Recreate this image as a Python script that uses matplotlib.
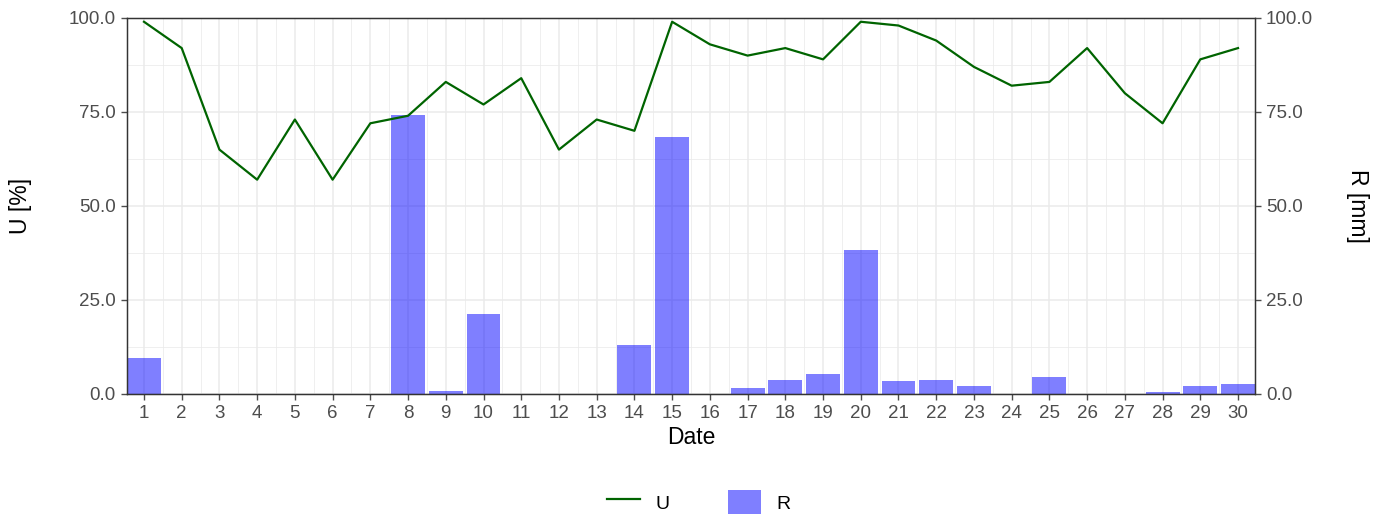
import numpy as np
import matplotlib.pyplot as plt
from matplotlib.patches import Patch
from matplotlib.lines import Line2D

plt.rcParams['font.family'] = ['Liberation Sans', 'DejaVu Sans']

# data
days = list(range(1, 31))
humidity = [99, 92, 65, 57, 73, 57, 72, 74, 83, 77, 84, 65, 73, 70, 99,
            93, 90, 92, 89, 99, 98, 94, 87, 82, 83, 92, 80, 72, 89, 92]
rain = [9.6, 0, 0, 0, 0, 0, 0, 74.2, 0.8, 21.3, 0, 0, 0, 12.9, 68.3,
        0, 1.7, 3.8, 5.3, 38.4, 3.5, 3.6, 2.1, 0, 4.4, 0, 0, 0.4, 2.1, 2.7]
yticks = [0, 25, 50, 75, 100]

grid_col = '#EBEBEB'
tick_col = '#4D4D4D'
W, H = 1384, 517

fig = plt.figure(figsize=(W / 100, H / 100), dpi=100)
ax = fig.add_axes([127 / W, 1 - 394 / H, (1255 - 127) / W, (394 - 18) / H])

# grid like ggplot theme_bw
for x in days:
    ax.axvline(x, color=grid_col, lw=1.1, zorder=0)
for x in np.arange(1.5, 30, 1):
    ax.axvline(x, color=grid_col, lw=0.55, zorder=0)
for y in yticks:
    ax.axhline(y, color=grid_col, lw=1.1, zorder=0)
for y in [12.5, 37.5, 62.5, 87.5]:
    ax.axhline(y, color=grid_col, lw=0.55, zorder=0)

ax.bar(days, rain, width=0.9, color='#0000FF', alpha=0.5, edgecolor='none', zorder=2)
ax.plot(days, humidity, color='#006400', lw=1.6, zorder=3)

ax.set_xlim(0.55, 30.45)
ax.set_ylim(0, 100)
ax.set_xticks(days)
ax.set_yticks(yticks)
ax.set_yticklabels([f'{v:.1f}' for v in yticks])
ax.tick_params(colors=tick_col, labelcolor=tick_col, labelsize=13.5, length=4, width=1, pad=4)
for s in ax.spines.values():
    s.set_color('#333333')
    s.set_linewidth(1)

ax2 = ax.twinx()
ax2.set_ylim(0, 100)
ax2.set_yticks(yticks)
ax2.set_yticklabels([f'{v:.1f}' for v in yticks])
ax2.tick_params(colors=tick_col, labelcolor=tick_col, labelsize=13.5, length=4, width=1, pad=4)
for s in ax2.spines.values():
    s.set_color('#333333')

# axis titles
fig.text(691 / W, 1 - 437 / H, 'Date', fontsize=16.5, ha='center', va='center')
fig.text(21 / W, 1 - 206 / H, 'U [%]', fontsize=16.5, rotation=90, ha='center', va='center')
fig.text(1357 / W, 1 - 206 / H, 'R [mm]', fontsize=16.5, rotation=-90, ha='center', va='center')

handles = [Line2D([0], [0], color='#006400', lw=1.6),
           Patch(facecolor='#0000FF', alpha=0.5, edgecolor='none')]
fig.legend(handles, ['U', 'R'], loc='lower center', ncol=2, frameon=False,
           bbox_to_anchor=(0.505, -0.029), fontsize=14, handlelength=1.7,
           handleheight=1.55, handletextpad=0.8, columnspacing=3.0)

fig.savefig('out.png', dpi=100)
